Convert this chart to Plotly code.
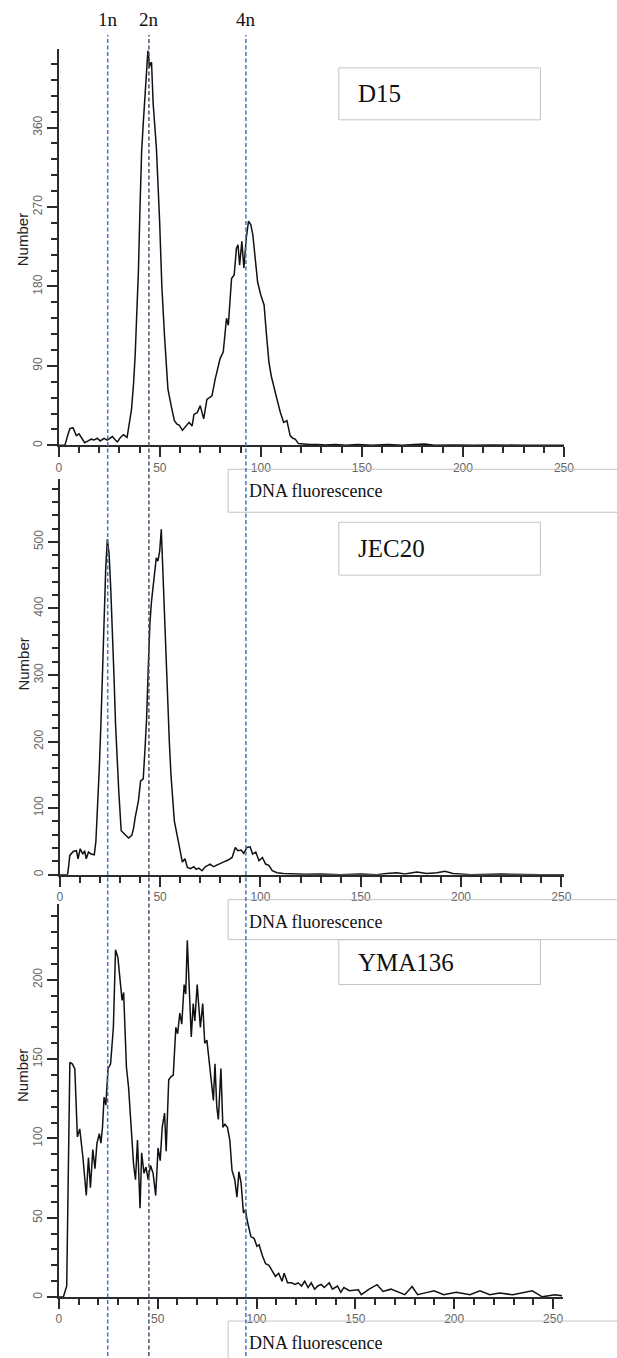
import plotly.graph_objects as go

# ---------------- data ----------------
d15_x = [
    0, 3.0, 4.5, 5.5, 7.0, 8.7, 10.0, 11.0, 12.8, 14.5,
    16.0, 17.5, 19.0, 20.5, 22.4, 24.0, 26.5, 28.0, 29.0, 30.5,
    32.0, 33.8, 35.0, 36.0, 37.0, 37.8, 38.6, 39.4, 40.2, 41.0,
    41.8, 42.6, 43.4, 44.1, 44.5, 44.8, 45.3, 45.9, 46.7, 47.5,
    48.3, 49.9, 51.0, 52.4, 54.0, 55.6, 57.2, 58.5, 59.6, 61.2,
    62.9, 64.5, 66.0, 66.9, 68.5, 70.0, 71.7, 73.3, 75.8, 77.4,
    79.8, 81.4, 83.0, 83.9, 85.5, 86.8, 87.9, 88.7, 89.5, 90.6,
    91.6, 92.8, 93.9, 95.0, 96.0, 97.2, 98.4, 100.0, 101.6, 102.8,
    104.0, 105.2, 106.4, 108.0, 109.7, 111.3, 112.9, 114.5, 115.8, 117.0,
    118.6, 121, 124, 128, 132, 137, 142, 148, 155, 163,
    170, 176, 181, 186, 195, 205, 215, 230, 250]
d15_y = [
    0, 0, 12, 19, 20, 11, 13, 9, 3, 5,
    7, 6, 8, 5, 8, 6, 10, 6, 4, 9,
    12, 9, 25, 41, 70, 102, 150, 197, 270, 333,
    365, 394, 420, 447, 440, 428, 432, 434, 387, 360,
    337, 254, 180, 121, 64, 45, 28, 24, 23, 17,
    22, 26, 22, 35, 37, 45, 30, 52, 56, 75,
    98, 106, 144, 136, 189, 193, 223, 227, 204, 231,
    201, 235, 254, 250, 239, 215, 185, 170, 159, 125,
    94, 78, 68, 52, 37, 26, 28, 11, 8, 7,
    2, 1.5, 1, 1, 0.5, 1, 0, 1, 0, 1,
    0, 1, 1.5, 0, 0.5, 0, 0.5, 0, 0]

jec20_x = [
    0, 3.9, 4.5, 5.0, 6.7, 8.3, 9.1, 10.2, 11.5, 12.4,
    13.2, 14.3, 15.6, 17.2, 18.0, 18.9, 19.7, 20.5, 21.3, 22.1,
    22.9, 23.7, 24.1, 24.6, 25.4, 26.2, 27.0, 27.8, 28.6, 29.4,
    30.6, 31.6, 32.7, 34.3, 35.9, 36.8, 37.6, 39.2, 40.3, 41.6,
    42.5, 43.3, 44.1, 44.9, 45.7, 46.5, 47.3, 48.1, 48.9, 49.8,
    50.6, 51.4, 52.2, 53.0, 53.8, 54.6, 55.4, 57.1, 58.7, 60.3,
    61.1, 62.4, 63.6, 65.2, 66.8, 68.0, 69.3, 70.9, 72.5, 73.8,
    75.0, 76.6, 79.0, 81.5, 83.9, 85.9, 87.5, 88.8, 90.4, 91.7,
    93.3, 94.9, 96.1, 97.7, 99.3, 101.0, 102.6, 104.2, 105.9, 108.3,
    111.5, 116, 122, 130, 140, 150, 158, 163, 168, 172,
    178, 183, 188, 192, 196, 205, 220, 240, 252]
jec20_y = [
    0, 0, 15, 29, 35, 36, 24, 39, 31, 36,
    24, 34, 31, 30, 50, 101, 160, 226, 310, 401,
    460, 504, 495, 481, 430, 376, 300, 226, 170, 126,
    66, 63, 61, 55, 59, 70, 86, 111, 141, 144,
    190, 236, 310, 376, 410, 436, 460, 476, 471, 486,
    519, 451, 391, 320, 251, 200, 151, 81, 56, 31,
    19, 24, 11, 9, 12, 8, 10, 6, 12, 14,
    16, 12, 16, 19, 22, 26, 41, 36, 37, 32,
    41, 42, 31, 34, 21, 26, 16, 14, 6, 3,
    2, 1, 0.5, 1, 0, 1, 0, 2, 3, 1,
    4, 2, 3, 5, 2, 0, 1, 0, 0]

yma136_x = [
    0, 2.3, 4.0, 4.8, 5.6, 6.8, 8.1, 9.4, 10.6, 12.2,
    13.9, 15.0, 16.0, 17.2, 18.3, 19.3, 20.5, 21.3, 22.1, 22.9,
    23.8, 24.9, 26.2, 27.6, 28.7, 29.9, 30.9, 32.0, 32.8, 34.2,
    35.3, 36.5, 37.8, 38.8, 39.8, 41.1, 41.9, 43.1, 44.1, 45.2,
    46.4, 47.7, 49.0, 50.2, 51.3, 52.3, 53.5, 54.3, 55.6, 56.8,
    57.9, 59.2, 60.1, 61.2, 62.2, 63.4, 64.2, 65.0, 65.8, 67.0,
    68.0, 68.8, 70.0, 70.8, 71.6, 72.8, 73.8, 74.9, 76.1, 77.4,
    78.2, 79.0, 79.9, 80.7, 82.0, 83.0, 84.0, 85.3, 86.5, 87.6,
    89.0, 90.1, 91.1, 92.2, 93.4, 94.4, 95.5, 97.2, 98.8, 100.2,
    101.3, 103.0, 104.6, 106.3, 107.9, 109.6, 111.2, 112.9, 114.0, 115.7,
    117.8, 119.5, 121.1, 122.8, 124.4, 126.1, 127.7, 129.4, 131.0, 132.7,
    134.3, 136.8, 138.4, 141.0, 142.6, 144.2, 147, 151.5, 153, 157,
    161, 164, 168, 171, 175, 178.7, 181.5, 184.8, 189.8, 194.7,
    201, 208, 213, 218, 223, 229.6, 234.6, 239.5, 244.5, 248,
    251, 254.5]
yma136_y = [
    0, 0, 7, 86, 148, 147, 144, 101, 106, 88,
    64, 88, 69, 93, 81, 97, 103, 97, 107, 126,
    121, 144, 147, 170, 219, 214, 202, 187, 192, 145,
    132, 112, 84, 74, 99, 56, 91, 78, 82, 74,
    83, 78, 64, 94, 86, 107, 116, 92, 137, 139,
    140, 170, 166, 179, 172, 197, 191, 225, 195, 164,
    185, 174, 197, 181, 170, 185, 160, 162, 147, 132,
    124, 147, 120, 112, 144, 107, 109, 107, 99, 80,
    74, 63, 79, 72, 53, 55, 47, 38, 37, 32,
    33, 26, 21, 20, 17, 13, 15, 10, 15, 9,
    9, 8, 9, 7, 10, 6, 9, 5, 7, 8,
    6, 9, 5, 7, 3, 6, 4, 4.6, 1.5, 5,
    7.8, 3.6, 5, 3.6, 1.5, 6.7, 1.5, 2.5, 4, 1.5,
    3, 1.5, 4, 1.5, 2.5, 1.5, 3, 4, 0.2, 1,
    1.5, 0.8]

strain_names = ["D15", "JEC20", "YMA136"]
ploidy_labels = ["1n", "2n", "4n"]
ploidy_pos = [24.2, 44.6, 92.6]   # on the DNA fluorescence scale of the top panel
x_title = "DNA fluorescence"
y_title = "Number"

# ---------------- layout helpers ----------------
W, H = 617, 1358
def fx(p):
    return p / W
def fy(p):
    return 1 - p / H

SERIF = "Liberation Serif, Times New Roman, serif"
SANS = "Liberation Sans, Arial, sans-serif"
AX = "#2b2b2b"

panels = [
    dict(x=d15_x, y=d15_y, xd=(57, 573), xr=250, yd=(446, 49), yr=449, dt=90, mt=18,
         box=(68, 120), dna=(470, 513), ytitle=240),
    dict(x=jec20_x, y=jec20_y, xd=(58, 573), xr=251.3, yd=(876, 480), yr=594, dt=100, mt=20,
         box=(523, 576), dna=(901, 941), ytitle=665),
    dict(x=yma136_x, y=yma136_y, xd=(57, 572), xr=255, yd=(1299, 905), yr=248, dt=50, mt=10,
         box=(941, 986), dna=(1323, 1390), ytitle=1077),
]

fig = go.Figure()
layout = dict(
    width=W, height=H, autosize=False,
    margin=dict(l=0, r=0, t=0, b=0),
    paper_bgcolor="white", plot_bgcolor="white",
    showlegend=False,
)
shapes = []
annotations = []

for i, p in enumerate(panels):
    n = "" if i == 0 else str(i + 1)
    fig.add_trace(go.Scatter(
        x=p["x"], y=p["y"], mode="lines",
        line=dict(color="#111111", width=1.5),
        xaxis="x" + n, yaxis="y" + n, hoverinfo="skip"))
    layout["xaxis" + n] = dict(
        domain=[fx(p["xd"][0]), fx(p["xd"][1])], range=[0, p["xr"]],
        anchor="y" + n, showgrid=False, zeroline=False,
        showline=True, linecolor=AX, linewidth=2,
        ticks="outside", ticklen=10, tickwidth=1.5, tickcolor=AX,
        tick0=0, dtick=50,
        minor=dict(ticks="outside", ticklen=6, tickwidth=1.5, tickcolor=AX, dtick=10),
        tickfont=dict(family=SANS, size=12, color="#666666"),
    )
    layout["yaxis" + n] = dict(
        domain=[fy(p["yd"][0]), fy(p["yd"][1])], range=[0, p["yr"]],
        anchor="x" + n, showgrid=False, zeroline=False,
        showline=True, linecolor=AX, linewidth=2,
        ticks="outside", ticklen=10, tickwidth=1.5, tickcolor=AX,
        tick0=0, dtick=p["dt"], tickangle=-90,
        minor=dict(ticks="outside", ticklen=6, tickwidth=1.5, tickcolor=AX, dtick=p["mt"]),
        tickfont=dict(family=SANS, size=12, color="#666666"),
    )
    # y title
    annotations.append(dict(
        text=y_title, xref="paper", yref="paper", x=fx(20), y=fy(p["ytitle"]),
        xanchor="center", yanchor="middle", textangle=-90, showarrow=False,
        font=dict(family=SANS, size=15, color="#222222")))
    # strain label box
    shapes.append(dict(type="rect", xref="paper", yref="paper",
                       x0=fx(343), x1=fx(549), y0=fy(p["box"][1]), y1=fy(p["box"][0]),
                       line=dict(color="#c4c4c4", width=1), fillcolor="rgba(0,0,0,0)",
                       layer="above"))
    annotations.append(dict(
        text=strain_names[i], xref="paper", yref="paper", x=fx(361),
        y=fy((p["box"][0] + p["box"][1]) / 2), xanchor="left", yanchor="middle",
        showarrow=False, font=dict(family=SERIF, size=25, color="#111111")))
    # DNA fluorescence box (runs off the right edge as in the original)
    shapes.append(dict(type="rect", xref="paper", yref="paper",
                       x0=fx(230), x1=fx(680), y0=fy(p["dna"][1]), y1=fy(p["dna"][0]),
                       line=dict(color="#c4c4c4", width=1), fillcolor="rgba(0,0,0,0)",
                       layer="above"))
    annotations.append(dict(
        text=x_title, xref="paper", yref="paper", x=fx(249),
        y=fy(p["dna"][0] + 22), xanchor="left", yanchor="middle",
        showarrow=False, font=dict(family=SERIF, size=18, color="#111111")))

# ploidy reference lines
line_colors = ["#4472c4", "#44546a", "#4472c4"]
for lab, pos, col in zip(ploidy_labels, ploidy_pos, line_colors):
    shapes.append(dict(type="line", xref="x", yref="paper", x0=pos, x1=pos,
                       y0=0, y1=fy(35), line=dict(color=col, width=1.5, dash="4px,2.5px"),
                       layer="above"))
    annotations.append(dict(
        text=lab, xref="x", yref="paper", x=pos, y=fy(20),
        xanchor="center", yanchor="middle", showarrow=False,
        font=dict(family=SERIF, size=19, color="#111111")))

layout["shapes"] = shapes
layout["annotations"] = annotations
fig.update_layout(**layout)
fig.write_html(
    "out.html",
    config={"displayModeBar": False},
    post_script="document.body.style.margin='0';"
                "document.body.style.overflow='hidden';"
                "document.documentElement.style.overflow='hidden';",
)
